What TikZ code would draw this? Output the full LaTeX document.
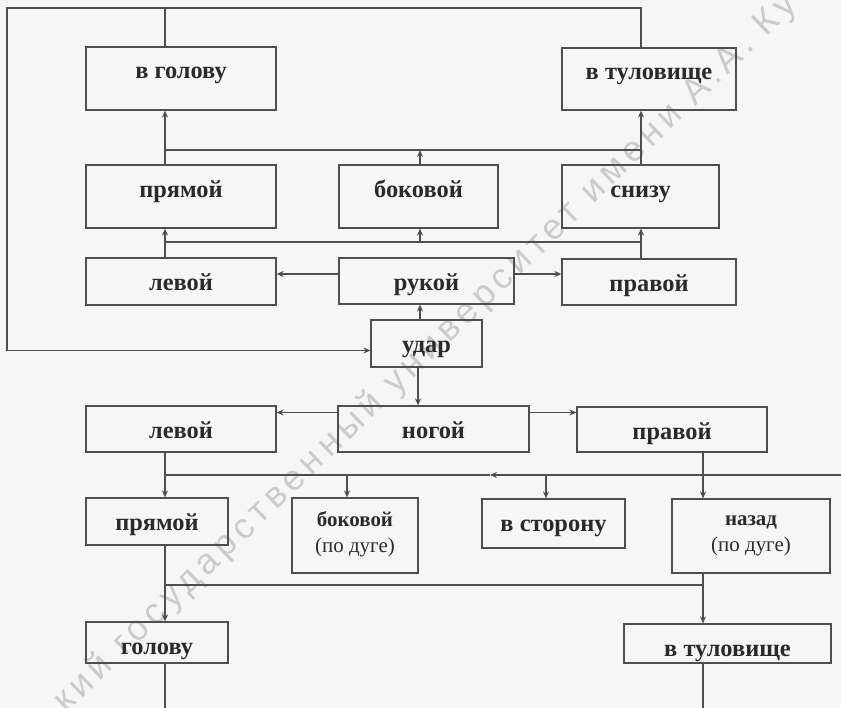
\documentclass[tikz,border=0pt]{standalone}
\usepackage{fontspec}
\setmainfont{Liberation Serif}
\newfontfamily\wmfont[LetterSpace=15]{Liberation Sans}
\usetikzlibrary{arrows.meta,calc}

\definecolor{paper}{HTML}{F6F6F6}
\definecolor{ink}{HTML}{2A2A2A}
\definecolor{wirecol}{HTML}{4E4E4E}
\definecolor{wmcol}{HTML}{CBCBCB}

\begin{document}
\begin{tikzpicture}[x=1bp,y=-1bp,
  box/.style={draw=wirecol, line width=1.2bp, text=ink, inner sep=0pt,
    align=center, font=\bfseries\fontsize{24.5}{26}\selectfont},
  % width, height, text depth: the baseline sits about 32bp below the top edge
  sbox/.style n args={3}{box, minimum width=#1, minimum height=#2,
    text height=26bp, text depth=#3},
  twoline/.style={box, font=\fontsize{21}{26}\selectfont},
  link/.style={draw=wirecol, line width=1.1bp},
  arr/.style={link, -{Stealth[length=7bp,width=6bp]}},
]
\useasboundingbox (0,0) rectangle (841,708);
\fill[paper] (0,0) rectangle (841,708);

% watermark running diagonally across the sheet
\begin{scope}
  \clip (0,0) rectangle (841,708);
  \node[anchor=base west, rotate=44, inner sep=0pt, text=wmcol,
        font=\wmfont\fontsize{36}{36}\selectfont] (wmark) at (66,714)
        {кий государственный университет имени А.А. Ку};
\end{scope}

% ---- strike with the hand ----
\node[sbox={190bp}{63bp}{25bp}] (hd1) at (181,78.5) {в голову};
\node[sbox={174bp}{62bp}{24bp}] (tr1) at (649,79) {в туловище};
\node[sbox={190bp}{63bp}{25bp}] (pr1) at (181,196.5) {прямой};
\node[sbox={159bp}{63bp}{25bp}] (bk1) at (418.5,196.5) {боковой};
\node[sbox={157bp}{63bp}{25bp}] (sn) at (640.5,196.5) {снизу};
\node[sbox={190bp}{47bp}{9bp}] (lv1) at (181,281.5) {левой};
\node[sbox={175bp}{46bp}{8bp}] (rk) at (426.5,281) {рукой};
\node[sbox={174bp}{46bp}{8bp}] (pv1) at (649,282) {правой};
\node[sbox={111bp}{47bp}{9bp}] (ud) at (426.5,343.5) {удар};

% ---- strike with the leg ----
\node[sbox={191bp}{46bp}{8bp}] (ng) at (433.5,429) {ногой};
\node[sbox={190bp}{46bp}{8bp}] (lv2) at (181,429) {левой};
\node[sbox={190bp}{45bp}{7bp}] (pv2) at (672,429.5) {правой};
\node[sbox={142bp}{47bp}{9bp}] (pr2) at (157,521.5) {прямой};
\node[twoline, minimum width=126bp, minimum height=75bp,
  text height=50bp, text depth=17bp] (bk2)
  at (355,535.5) {\textbf{боковой}\\(по дуге)};
\node[sbox={143bp}{49bp}{11bp}] (vs) at (553.5,523.5) {в сторону};
\node[twoline, minimum width=158bp, minimum height=74bp,
  text height=48bp, text depth=18bp] (nz)
  at (751,536) {\textbf{назад}\\(по дуге)};
\node[sbox={142bp}{41bp}{3bp}] (hd2) at (157,642.5) {голову};
\node[sbox={207bp}{39bp}{1bp}] (tr2) at (727.5,643.5) {в туловище};

% guide lines for the connectors
\coordinate (colL) at (165,0);
\coordinate (colR) at (641,0);
\coordinate (colM) at (420,0);
\coordinate (colM2) at (418,0);
\coordinate (colBk) at (347,0);
\coordinate (colVs) at (546,0);
\coordinate (colNz) at (703,0);
\coordinate (frameTop) at (0,8);
\coordinate (frameLeft) at (7,0);
\coordinate (busA) at (0,150);
\coordinate (busB) at (0,242);
\coordinate (rowRk) at (0,274);
\coordinate (rowNg) at (0,412.5);
\coordinate (busC) at (0,475);
\coordinate (busD) at (0,585);
\coordinate (botEdge) at (0,708);
\coordinate (rightEdge) at (841,0);
\coordinate (busTip) at (490,475);
\coordinate (udIn) at ($(ud.west)+(0,7)$);

% return frame round the upper part
\draw[link] (hd1.north -| colL) -- (colL |- frameTop);
\draw[arr] (tr1.north -| colR) -- (colR |- frameTop) -- (frameLeft |- frameTop)
  -- (frameLeft |- udIn) -- (udIn);

% upper tier
\draw[arr] (pr1.north -| colL) -- (hd1.south -| colL);
\draw[arr] (sn.north -| colR) -- (tr1.south -| colR);
\draw[link] (colL |- busA) -- (colR |- busA);
\draw[arr] (bk1.north -| colM) -- (colM |- busA);

\draw[link] (lv1.north -| colL) -- (colL |- busB) -- (colR |- busB) -- (pv1.north -| colR);
\draw[arr] (colL |- busB) -- (pr1.south -| colL);
\draw[arr] (colM |- busB) -- (bk1.south -| colM);
\draw[arr] (colR |- busB) -- (sn.south -| colR);
\draw[arr] (rk.west |- rowRk) -- (lv1.east |- rowRk);
\draw[arr] (rk.east |- rowRk) -- (pv1.west |- rowRk);
\draw[arr] (ud.north -| colM) -- (rk.south -| colM);

% lower tier
\draw[arr] (ud.south -| colM2) -- (ng.north -| colM2);
\draw[arr] (ng.west |- rowNg) -- (lv2.east |- rowNg);
\draw[arr] (ng.east |- rowNg) -- (pv2.west |- rowNg);
\draw[arr] (lv2.south -| colL) -- (pr2.north -| colL);
\draw[arr] (pv2.south -| colNz) -- (nz.north -| colNz);
\draw[arr] (rightEdge |- busC) -- (busTip);
\draw[link] (busTip) -- (colL |- busC);
\draw[arr] (colBk |- busC) -- (bk2.north -| colBk);
\draw[arr] (colVs |- busC) -- (vs.north -| colVs);
\draw[arr] (pr2.south -| colL) -- (hd2.north -| colL);
\draw[arr] (nz.south -| colNz) -- (tr2.north -| colNz);
\draw[link] (colL |- busD) -- (colNz |- busD);
\draw[link] (hd2.south -| colL) -- (colL |- botEdge);
\draw[link] (tr2.south -| colNz) -- (colNz |- botEdge);
\end{tikzpicture}
\end{document}
